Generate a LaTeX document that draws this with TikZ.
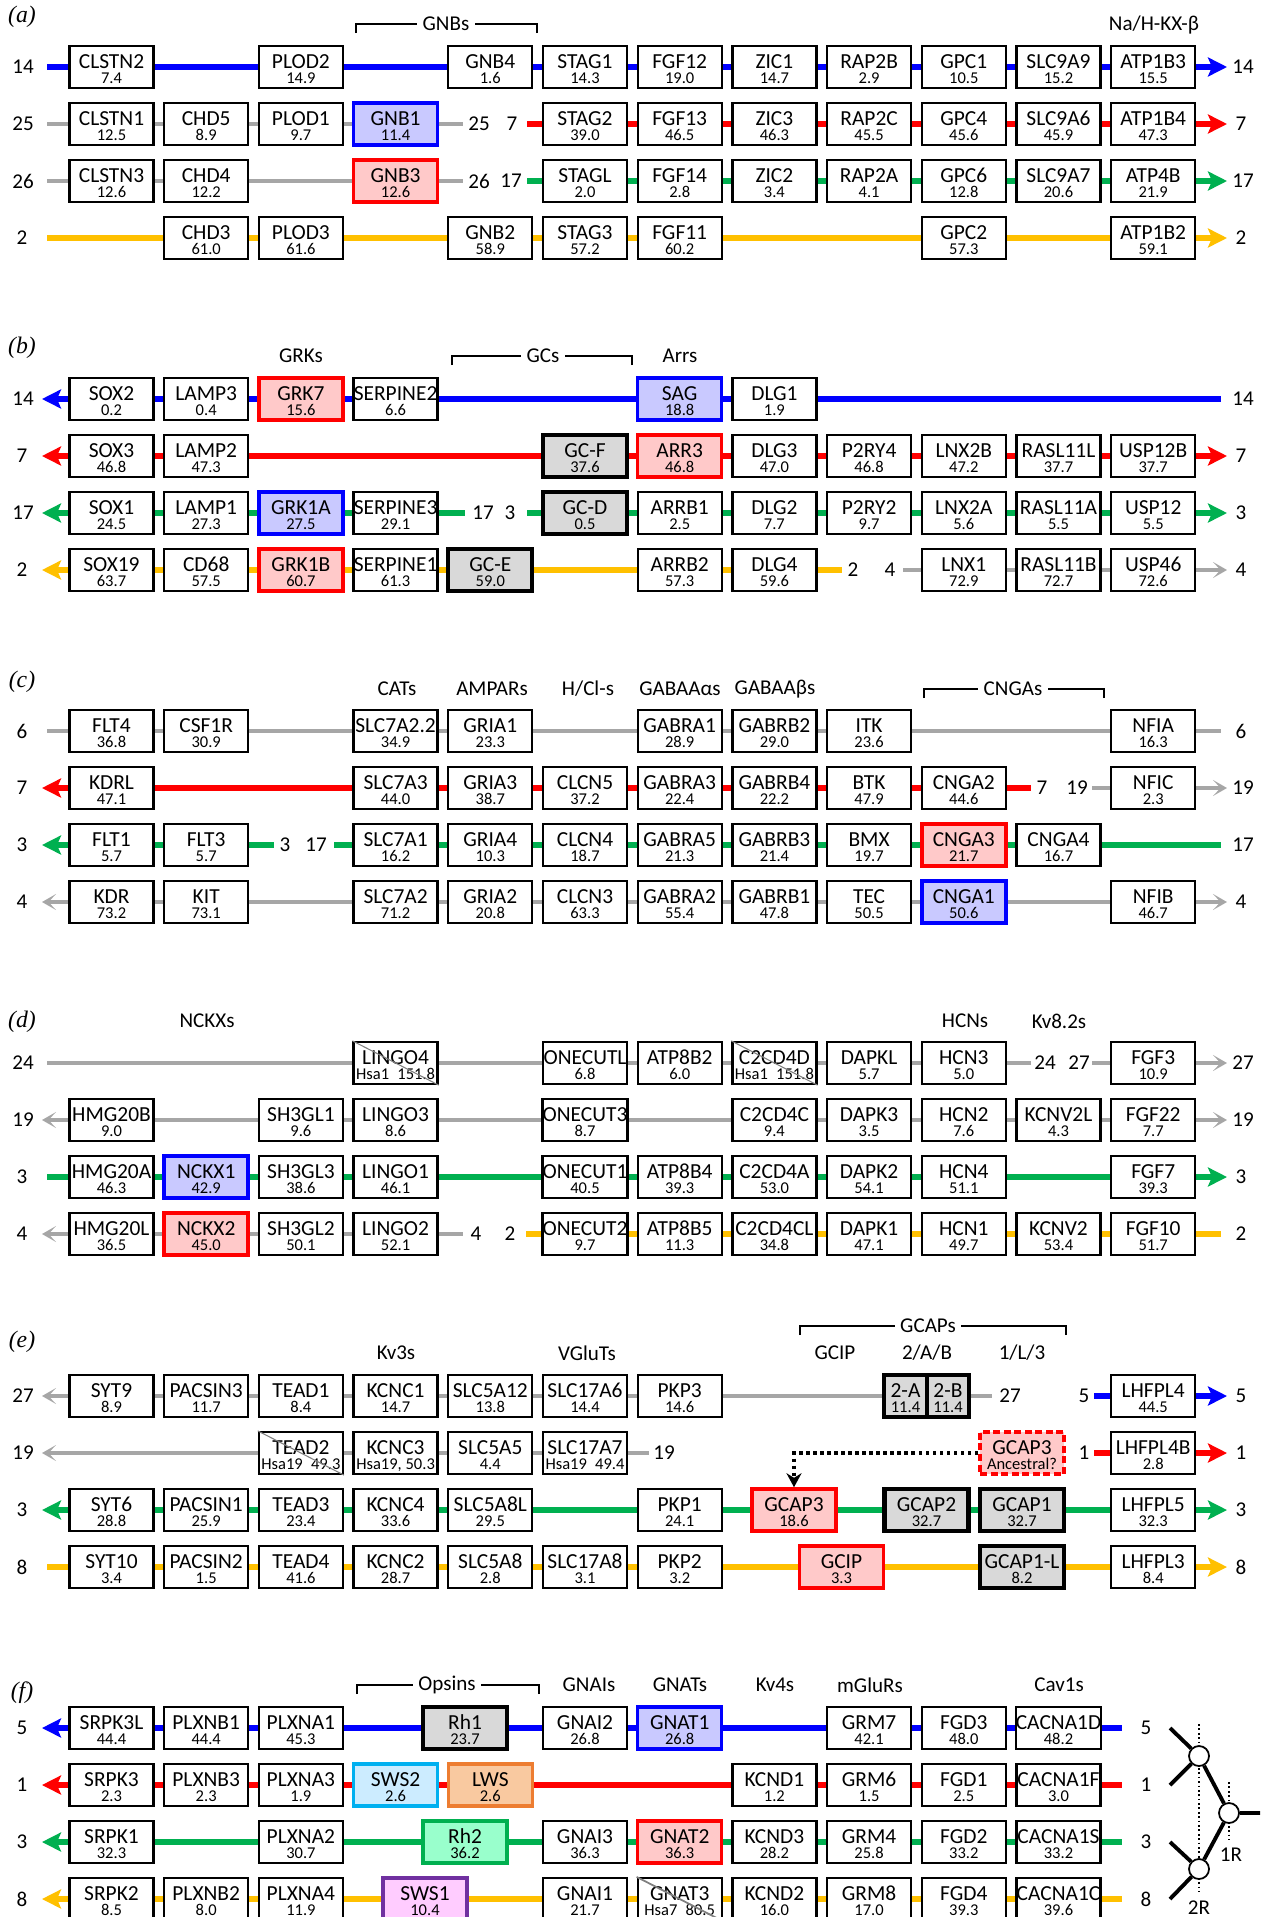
\documentclass[tikz,border=0pt]{standalone}
\usepackage{fontspec}
\setmainfont{Carlito}
\newfontfamily\panelfont{Liberation Serif}
\usetikzlibrary{arrows.meta}
\usepackage{xcolor}
\definecolor{chrblue}{HTML}{0000FF}
\definecolor{chrred}{HTML}{FF0000}
\definecolor{chrgreen}{HTML}{00B050}
\definecolor{chryellow}{HTML}{FFC000}
\definecolor{chrgray}{HTML}{A6A6A6}
\definecolor{bluefill}{HTML}{C9C9FF}
\definecolor{redfill}{HTML}{FFC9C9}
\definecolor{grayfill}{HTML}{D9D9D9}
\definecolor{cyanline}{HTML}{00B0F0}
\definecolor{cyanfill}{HTML}{CCECFF}
\definecolor{orangeline}{HTML}{ED7D31}
\definecolor{orangefill}{HTML}{F9C9A0}
\definecolor{greenfill}{HTML}{99FFCC}
\definecolor{purpleline}{HTML}{7030A0}
\definecolor{purplefill}{HTML}{FFCCFF}

\newcommand{\namefont}{\fontsize{12.2}{8.5}\selectfont}
\newcommand{\numfont}{\fontsize{9.4}{8.5}\selectfont}
\newcommand{\gtop}{\rule{0pt}{12pt}}
\newcommand{\gbot}{\rule[-1.5pt]{0pt}{1.5pt}}

\tikzset{
  gene/.style={draw=black, line width=1.3pt, fill=white, minimum width=1.68cm,
    minimum height=0.84cm, inner sep=0pt, align=center, font=\namefont},
  gblue/.style={gene, draw=chrblue, fill=bluefill, line width=2pt},
  gred/.style={gene, draw=chrred, fill=redfill, line width=2pt},
  ggray/.style={gene, fill=grayfill, line width=2.4pt},
  gcyan/.style={gene, draw=cyanline, fill=cyanfill, line width=2pt},
  gorange/.style={gene, draw=orangeline, fill=orangefill, line width=2pt},
  ggreen/.style={gene, draw=chrgreen, fill=greenfill, line width=2pt},
  gpurple/.style={gene, draw=purpleline, fill=purplefill, line width=2pt},
  ganc/.style={gred, dash pattern=on 4pt off 2pt},
  ghalf/.style={ggray, minimum width=0.85cm},
  blueline/.style={draw=chrblue, line width=3.7pt},
  redline/.style={draw=chrred, line width=3.7pt},
  greenline/.style={draw=chrgreen, line width=3.7pt},
  yellowline/.style={draw=chryellow, line width=3.7pt},
  grayline/.style={draw=chrgray, line width=2.3pt},
  chrtip/.tip={Stealth[length=3.8mm,width=3.8mm,inset=0.8mm]},
  graytip/.tip={Stealth[length=2.8mm,width=3.2mm,inset=1.5mm]},
  chrlab/.style={font=\fontsize{12}{14}\selectfont, inner sep=0pt},
  grp/.style={font=\fontsize{12}{14}\selectfont, inner sep=3pt},
  bracket/.style={line width=0.85pt},
  panel/.style={font=\panelfont\itshape\fontsize{13.5}{16}\selectfont},
  diag/.style={draw=gray, line width=0.6pt},
  dotarrow/.style={line width=2.2pt, dash pattern=on 2pt off 2pt,
    -{Stealth[length=2.8mm,width=3mm]}},
  tree/.style={line width=2.2pt},
  tdot/.style={line width=0.7pt, dash pattern=on 1pt off 1.5pt},
  tnode/.style={circle, draw, line width=1pt, fill=white, minimum size=0.4cm, inner sep=0pt},
}

\begin{document}
\begin{tikzpicture}[x=0.02cm, y=-0.02cm]
\useasboundingbox (0,0) rectangle (1264,1917);

% ---------------- (a) ----------------
\node[panel] (pa) at (22,17) {(a)};
\node[grp] (gnbs) at (446,24) {GNBs};
\coordinate (gnbs-l) at (356,33); \coordinate (gnbs-r) at (537,33);
\draw[bracket] (gnbs-l) |- (gnbs.west);
\draw[bracket] (gnbs-r) |- (gnbs.east);
\node[grp] (nahkx) at (1154,25) {Na/H-KX-β};

\coordinate (a1s) at (47,67);   \coordinate (a1e) at (1227,67);
\coordinate (a2s) at (47,124);  \coordinate (a2m) at (463,124);
\coordinate (a2n) at (527,124); \coordinate (a2e) at (1227,124);
\coordinate (a3s) at (47,181);  \coordinate (a3m) at (463,181);
\coordinate (a3n) at (527,181); \coordinate (a3e) at (1227,181);
\coordinate (a4s) at (47,238);  \coordinate (a4e) at (1227,238);
\draw[blueline,-chrtip] (a1s) -- (a1e);
\draw[grayline] (a2s) -- (a2m);
\draw[redline,-chrtip] (a2n) -- (a2e);
\draw[grayline] (a3s) -- (a3m);
\draw[greenline,-chrtip] (a3n) -- (a3e);
\draw[yellowline,-chrtip] (a4s) -- (a4e);

\node[chrlab] (a1l) at (23,67) {14};  \node[chrlab] (a1r) at (1243,67) {14};
\node[chrlab] (a2l) at (23,124) {25}; \node[chrlab] (a2x) at (479,124) {25};
\node[chrlab] (a2y) at (512,124) {7}; \node[chrlab] (a2r) at (1241,124) {7};
\node[chrlab] (a3l) at (23,181) {26}; \node[chrlab] (a3x) at (479,181) {26};
\node[chrlab] (a3y) at (511,181) {17}; \node[chrlab] (a3r) at (1243,181) {17};
\node[chrlab] (a4l) at (22,238) {2};  \node[chrlab] (a4r) at (1241,238) {2};

\foreach \col/\gname/\val/\sty in {1/CLSTN2/7.4/gene, 3/PLOD2/14.9/gene, 5/GNB4/1.6/gene,
    6/STAG1/14.3/gene, 7/FGF12/19.0/gene, 8/ZIC1/14.7/gene, 9/RAP2B/2.9/gene,
    10/GPC1/10.5/gene, 11/SLC9A9/15.2/gene, 12/ATP1B3/15.5/gene}
  \node[\sty] (a1-\col) at ({111.5+(\col-1)*94.7},67) {\gtop\gname\\{\numfont\val\gbot}};
\foreach \col/\gname/\val/\sty in {1/CLSTN1/12.5/gene, 2/CHD5/8.9/gene, 3/PLOD1/9.7/gene,
    4/GNB1/11.4/gblue, 6/STAG2/39.0/gene, 7/FGF13/46.5/gene, 8/ZIC3/46.3/gene,
    9/RAP2C/45.5/gene, 10/GPC4/45.6/gene, 11/SLC9A6/45.9/gene, 12/ATP1B4/47.3/gene}
  \node[\sty] (a2-\col) at ({111.5+(\col-1)*94.7},124) {\gtop\gname\\{\numfont\val\gbot}};
\foreach \col/\gname/\val/\sty in {1/CLSTN3/12.6/gene, 2/CHD4/12.2/gene, 4/GNB3/12.6/gred,
    6/STAGL/2.0/gene, 7/FGF14/2.8/gene, 8/ZIC2/3.4/gene, 9/RAP2A/4.1/gene,
    10/GPC6/12.8/gene, 11/SLC9A7/20.6/gene, 12/ATP4B/21.9/gene}
  \node[\sty] (a3-\col) at ({111.5+(\col-1)*94.7},181) {\gtop\gname\\{\numfont\val\gbot}};
\foreach \col/\gname/\val/\sty in {2/CHD3/61.0/gene, 3/PLOD3/61.6/gene, 5/GNB2/58.9/gene,
    6/STAG3/57.2/gene, 7/FGF11/60.2/gene, 10/GPC2/57.3/gene, 12/ATP1B2/59.1/gene}
  \node[\sty] (a4-\col) at ({111.5+(\col-1)*94.7},238) {\gtop\gname\\{\numfont\val\gbot}};

% ---------------- (b) ----------------
\node[panel] (pb) at (22,348) {(b)};
\node[grp] (grks) at (301,356) {GRKs};
\node[grp] (gcs) at (543,356) {GCs};
\coordinate (gcs-l) at (452,365); \coordinate (gcs-r) at (632,365);
\draw[bracket] (gcs-l) |- (gcs.west);
\draw[bracket] (gcs-r) |- (gcs.east);
\node[grp] (arrs) at (680,356) {Arrs};

\coordinate (b1s) at (42,399);  \coordinate (b1e) at (1221,399);
\coordinate (b2s) at (42,456);  \coordinate (b2e) at (1227,456);
\coordinate (b3s) at (42,513);  \coordinate (b3m) at (465,513);
\coordinate (b3n) at (527,513); \coordinate (b3e) at (1227,513);
\coordinate (b4s) at (42,570);  \coordinate (b4m) at (842,570);
\coordinate (b4n) at (903,570); \coordinate (b4e) at (1227,570);
\draw[blueline,chrtip-] (b1s) -- (b1e);
\draw[redline,chrtip-chrtip] (b2s) -- (b2e);
\draw[greenline,chrtip-] (b3s) -- (b3m);
\draw[greenline,-chrtip] (b3n) -- (b3e);
\draw[yellowline,chrtip-] (b4s) -- (b4m);
\draw[grayline,-graytip] (b4n) -- (b4e);

\node[chrlab] (b1l) at (23,399) {14}; \node[chrlab] (b1r) at (1243,399) {14};
\node[chrlab] (b2l) at (22,456) {7};  \node[chrlab] (b2r) at (1241,456) {7};
\node[chrlab] (b3l) at (23,513) {17}; \node[chrlab] (b3x) at (483,513) {17};
\node[chrlab] (b3y) at (510,513) {3}; \node[chrlab] (b3r) at (1241,513) {3};
\node[chrlab] (b4l) at (22,570) {2};  \node[chrlab] (b4x) at (853,570) {2};
\node[chrlab] (b4y) at (890,570) {4}; \node[chrlab] (b4r) at (1241,570) {4};

\foreach \col/\gname/\val/\sty in {1/SOX2/0.2/gene, 2/LAMP3/0.4/gene, 3/GRK7/15.6/gred,
    4/SERPINE2/6.6/gene, 7/SAG/18.8/gblue, 8/DLG1/1.9/gene}
  \node[\sty] (b1-\col) at ({111.5+(\col-1)*94.7},399) {\gtop\gname\\{\numfont\val\gbot}};
\foreach \col/\gname/\val/\sty in {1/SOX3/46.8/gene, 2/LAMP2/47.3/gene, 6/GC-F/37.6/ggray,
    7/ARR3/46.8/gred, 8/DLG3/47.0/gene, 9/P2RY4/46.8/gene, 10/LNX2B/47.2/gene,
    11/RASL11L/37.7/gene, 12/USP12B/37.7/gene}
  \node[\sty] (b2-\col) at ({111.5+(\col-1)*94.7},456) {\gtop\gname\\{\numfont\val\gbot}};
\foreach \col/\gname/\val/\sty in {1/SOX1/24.5/gene, 2/LAMP1/27.3/gene, 3/GRK1A/27.5/gblue,
    4/SERPINE3/29.1/gene, 6/GC-D/0.5/ggray, 7/ARRB1/2.5/gene, 8/DLG2/7.7/gene,
    9/P2RY2/9.7/gene, 10/LNX2A/5.6/gene, 11/RASL11A/5.5/gene, 12/USP12/5.5/gene}
  \node[\sty] (b3-\col) at ({111.5+(\col-1)*94.7},513) {\gtop\gname\\{\numfont\val\gbot}};
\foreach \col/\gname/\val/\sty in {1/SOX19/63.7/gene, 2/CD68/57.5/gene, 3/GRK1B/60.7/gred,
    4/SERPINE1/61.3/gene, 5/GC-E/59.0/ggray, 7/ARRB2/57.3/gene, 8/DLG4/59.6/gene,
    10/LNX1/72.9/gene, 11/RASL11B/72.7/gene, 12/USP46/72.6/gene}
  \node[\sty] (b4-\col) at ({111.5+(\col-1)*94.7},570) {\gtop\gname\\{\numfont\val\gbot}};

% ---------------- (c) ----------------
\node[panel] (pc) at (22,682) {(c)};
\node[grp] (cats) at (397,689) {CATs};
\node[grp] (ampars) at (492,689) {AMPARs};
\node[grp] (hcls) at (588,689) {H/Cl-s};
\node[grp] (gabaa) at (680,689) {GABAAαs};
\node[grp] (gabab) at (775,689) {GABAAβs};
\node[grp] (cngas) at (1013,689) {CNGAs};
\coordinate (cngas-l) at (924,698); \coordinate (cngas-r) at (1104,698);
\draw[bracket] (cngas-l) |- (cngas.west);
\draw[bracket] (cngas-r) |- (cngas.east);

\coordinate (c1s) at (47,731);  \coordinate (c1e) at (1221,731);
\coordinate (c2s) at (42,788);  \coordinate (c2m) at (1031,788);
\coordinate (c2n) at (1092,788); \coordinate (c2e) at (1227,788);
\coordinate (c3s) at (42,845);  \coordinate (c3m) at (274,845);
\coordinate (c3n) at (334,845); \coordinate (c3e) at (1221,845);
\coordinate (c4s) at (42,902);  \coordinate (c4e) at (1227,902);
\draw[grayline] (c1s) -- (c1e);
\draw[redline,chrtip-] (c2s) -- (c2m);
\draw[grayline,-graytip] (c2n) -- (c2e);
\draw[greenline,chrtip-] (c3s) -- (c3m);
\draw[greenline] (c3n) -- (c3e);
\draw[grayline,graytip-graytip] (c4s) -- (c4e);

\node[chrlab] (c1l) at (22,731) {6};  \node[chrlab] (c1r) at (1241,731) {6};
\node[chrlab] (c2l) at (22,788) {7};  \node[chrlab] (c2x) at (1042,788) {7};
\node[chrlab] (c2y) at (1077,788) {19}; \node[chrlab] (c2r) at (1243,788) {19};
\node[chrlab] (c3l) at (22,845) {3};  \node[chrlab] (c3x) at (285,845) {3};
\node[chrlab] (c3y) at (316,845) {17}; \node[chrlab] (c3r) at (1243,845) {17};
\node[chrlab] (c4l) at (22,902) {4};  \node[chrlab] (c4r) at (1241,902) {4};

\foreach \col/\gname/\val/\sty in {1/FLT4/36.8/gene, 2/CSF1R/30.9/gene, 4/SLC7A2.2/34.9/gene,
    5/GRIA1/23.3/gene, 7/GABRA1/28.9/gene, 8/GABRB2/29.0/gene, 9/ITK/23.6/gene,
    12/NFIA/16.3/gene}
  \node[\sty] (c1-\col) at ({111.5+(\col-1)*94.7},731) {\gtop\gname\\{\numfont\val\gbot}};
\foreach \col/\gname/\val/\sty in {1/KDRL/47.1/gene, 4/SLC7A3/44.0/gene, 5/GRIA3/38.7/gene,
    6/CLCN5/37.2/gene, 7/GABRA3/22.4/gene, 8/GABRB4/22.2/gene, 9/BTK/47.9/gene,
    10/CNGA2/44.6/gene, 12/NFIC/2.3/gene}
  \node[\sty] (c2-\col) at ({111.5+(\col-1)*94.7},788) {\gtop\gname\\{\numfont\val\gbot}};
\foreach \col/\gname/\val/\sty in {1/FLT1/5.7/gene, 2/FLT3/5.7/gene, 4/SLC7A1/16.2/gene,
    5/GRIA4/10.3/gene, 6/CLCN4/18.7/gene, 7/GABRA5/21.3/gene, 8/GABRB3/21.4/gene,
    9/BMX/19.7/gene, 10/CNGA3/21.7/gred, 11/CNGA4/16.7/gene}
  \node[\sty] (c3-\col) at ({111.5+(\col-1)*94.7},845) {\gtop\gname\\{\numfont\val\gbot}};
\foreach \col/\gname/\val/\sty in {1/KDR/73.2/gene, 2/KIT/73.1/gene, 4/SLC7A2/71.2/gene,
    5/GRIA2/20.8/gene, 6/CLCN3/63.3/gene, 7/GABRA2/55.4/gene, 8/GABRB1/47.8/gene,
    9/TEC/50.5/gene, 10/CNGA1/50.6/gblue, 12/NFIB/46.7/gene}
  \node[\sty] (c4-\col) at ({111.5+(\col-1)*94.7},902) {\gtop\gname\\{\numfont\val\gbot}};

% ---------------- (d) ----------------
\node[panel] (pd) at (22,1022) {(d)};
\node[grp] (nckxs) at (207,1021) {NCKXs};
\node[grp] (hcns) at (965,1021) {HCNs};
\node[grp] (kv82s) at (1059,1021) {Kv8.2s};

\coordinate (d1s) at (47,1063);  \coordinate (d1m) at (1031,1063);
\coordinate (d1n) at (1092,1063); \coordinate (d1e) at (1227,1063);
\coordinate (d2s) at (42,1120);  \coordinate (d2e) at (1227,1120);
\coordinate (d3s) at (47,1177);  \coordinate (d3e) at (1227,1177);
\coordinate (d4s) at (42,1234);  \coordinate (d4m) at (463,1234);
\coordinate (d4n) at (526,1234); \coordinate (d4e) at (1221,1234);
\draw[grayline] (d1s) -- (d1m);
\draw[grayline,-graytip] (d1n) -- (d1e);
\draw[grayline,graytip-graytip] (d2s) -- (d2e);
\draw[greenline,-chrtip] (d3s) -- (d3e);
\draw[grayline,graytip-] (d4s) -- (d4m);
\draw[yellowline] (d4n) -- (d4e);

\node[chrlab] (d1l) at (23,1063) {24}; \node[chrlab] (d1x) at (1045,1063) {24};
\node[chrlab] (d1y) at (1079,1063) {27}; \node[chrlab] (d1r) at (1243,1063) {27};
\node[chrlab] (d2l) at (23,1120) {19}; \node[chrlab] (d2r) at (1243,1120) {19};
\node[chrlab] (d3l) at (22,1177) {3};  \node[chrlab] (d3r) at (1241,1177) {3};
\node[chrlab] (d4l) at (22,1234) {4};  \node[chrlab] (d4x) at (476,1234) {4};
\node[chrlab] (d4y) at (510,1234) {2}; \node[chrlab] (d4r) at (1241,1234) {2};

\foreach \col/\gname/\val/\sty in {4/LINGO4/{Hsa1\enspace151.8}/gene, 6/ONECUTL/6.8/gene,
    7/ATP8B2/6.0/gene, 8/C2CD4D/{Hsa1\enspace151.8}/gene, 9/DAPKL/5.7/gene,
    10/HCN3/5.0/gene, 12/FGF3/10.9/gene}
  \node[\sty] (d1-\col) at ({111.5+(\col-1)*94.7},1063) {\gtop\gname\\{\numfont\val\gbot}};
\foreach \col/\gname/\val/\sty in {1/HMG20B/9.0/gene, 3/SH3GL1/9.6/gene, 4/LINGO3/8.6/gene,
    6/ONECUT3/8.7/gene, 8/C2CD4C/9.4/gene, 9/DAPK3/3.5/gene, 10/HCN2/7.6/gene,
    11/KCNV2L/4.3/gene, 12/FGF22/7.7/gene}
  \node[\sty] (d2-\col) at ({111.5+(\col-1)*94.7},1120) {\gtop\gname\\{\numfont\val\gbot}};
\foreach \col/\gname/\val/\sty in {1/HMG20A/46.3/gene, 2/NCKX1/42.9/gblue, 3/SH3GL3/38.6/gene,
    4/LINGO1/46.1/gene, 6/ONECUT1/40.5/gene, 7/ATP8B4/39.3/gene, 8/C2CD4A/53.0/gene,
    9/DAPK2/54.1/gene, 10/HCN4/51.1/gene, 12/FGF7/39.3/gene}
  \node[\sty] (d3-\col) at ({111.5+(\col-1)*94.7},1177) {\gtop\gname\\{\numfont\val\gbot}};
\foreach \col/\gname/\val/\sty in {1/HMG20L/36.5/gene, 2/NCKX2/45.0/gred, 3/SH3GL2/50.1/gene,
    4/LINGO2/52.1/gene, 6/ONECUT2/9.7/gene, 7/ATP8B5/11.3/gene, 8/C2CD4CL/34.8/gene,
    9/DAPK1/47.1/gene, 10/HCN1/49.7/gene, 11/KCNV2/53.4/gene, 12/FGF10/51.7/gene}
  \node[\sty] (d4-\col) at ({111.5+(\col-1)*94.7},1234) {\gtop\gname\\{\numfont\val\gbot}};
\draw[diag] (d1-4.north west) -- (d1-4.south east);
\draw[diag] (d1-8.north west) -- (d1-8.south east);

% ---------------- (e) ----------------
\node[panel] (pe) at (22,1342) {(e)};
\node[grp] (kv3s) at (396,1353) {Kv3s};
\node[grp] (vgluts) at (587,1353) {VGluTs};
\node[grp] (gcaps) at (928,1326) {GCAPs};
\coordinate (gcaps-l) at (800,1335); \coordinate (gcaps-r) at (1066,1335);
\draw[bracket] (gcaps-l) |- (gcaps.west);
\draw[bracket] (gcaps-r) |- (gcaps.east);
\node[grp] (sgcip) at (835,1353) {GCIP};
\node[grp] (s2ab) at (927,1353) {2/A/B};
\node[grp] (s1l3) at (1022,1353) {1/L/3};

\coordinate (e1s) at (42,1396);  \coordinate (e1m) at (992,1396);
\coordinate (e1n) at (1094,1396); \coordinate (e1e) at (1227,1396);
\coordinate (e2s) at (42,1453);  \coordinate (e2m) at (649,1453);
\coordinate (e2n) at (1094,1453); \coordinate (e2e) at (1227,1453);
\coordinate (e3s) at (42,1510);  \coordinate (e3e) at (1227,1510);
\coordinate (e4s) at (47,1567);  \coordinate (e4e) at (1227,1567);
\draw[grayline,graytip-] (e1s) -- (e1m);
\draw[blueline,-chrtip] (e1n) -- (e1e);
\draw[grayline,graytip-] (e2s) -- (e2m);
\draw[redline,-chrtip] (e2n) -- (e2e);
\draw[greenline,chrtip-chrtip] (e3s) -- (e3e);
\draw[yellowline,-chrtip] (e4s) -- (e4e);

\node[chrlab] (e1l) at (23,1396) {27}; \node[chrlab] (e1x) at (1010,1396) {27};
\node[chrlab] (e1y) at (1084,1396) {5}; \node[chrlab] (e1r) at (1241,1396) {5};
\node[chrlab] (e2l) at (23,1453) {19}; \node[chrlab] (e2x) at (664,1453) {19};
\node[chrlab] (e2y) at (1084,1453) {1}; \node[chrlab] (e2r) at (1241,1453) {1};
\node[chrlab] (e3l) at (22,1510) {3};  \node[chrlab] (e3r) at (1241,1510) {3};
\node[chrlab] (e4l) at (22,1567) {8};  \node[chrlab] (e4r) at (1241,1567) {8};

\foreach \col/\gname/\val/\sty in {1/SYT9/8.9/gene, 2/PACSIN3/11.7/gene, 3/TEAD1/8.4/gene,
    4/KCNC1/14.7/gene, 5/SLC5A12/13.8/gene, 6/SLC17A6/14.4/gene, 7/PKP3/14.6/gene,
    12/LHFPL4/44.5/gene}
  \node[\sty] (e1-\col) at ({111.5+(\col-1)*94.7},1396) {\gtop\gname\\{\numfont\val\gbot}};
\foreach \col/\gname/\val/\sty in {3/TEAD2/{Hsa19\enspace49.3}/gene, 4/KCNC3/{Hsa19, 50.3}/gene,
    5/SLC5A5/4.4/gene, 6/SLC17A7/{Hsa19\enspace49.4}/gene, 12/LHFPL4B/2.8/gene}
  \node[\sty] (e2-\col) at ({111.5+(\col-1)*94.7},1453) {\gtop\gname\\{\numfont\val\gbot}};
\foreach \col/\gname/\val/\sty in {1/SYT6/28.8/gene, 2/PACSIN1/25.9/gene, 3/TEAD3/23.4/gene,
    4/KCNC4/33.6/gene, 5/SLC5A8L/29.5/gene, 7/PKP1/24.1/gene, 12/LHFPL5/32.3/gene}
  \node[\sty] (e3-\col) at ({111.5+(\col-1)*94.7},1510) {\gtop\gname\\{\numfont\val\gbot}};
\foreach \col/\gname/\val/\sty in {1/SYT10/3.4/gene, 2/PACSIN2/1.5/gene, 3/TEAD4/41.6/gene,
    4/KCNC2/28.7/gene, 5/SLC5A8/2.8/gene, 6/SLC17A8/3.1/gene, 7/PKP2/3.2/gene,
    12/LHFPL3/8.4/gene}
  \node[\sty] (e4-\col) at ({111.5+(\col-1)*94.7},1567) {\gtop\gname\\{\numfont\val\gbot}};
\draw[diag] (e2-3.north west) -- (e2-3.south east);

% GCAP genes
\node[ghalf] (gcap2a) at (905.5,1396) {\gtop 2-A\\{\numfont 11.4\gbot}};
\node[ghalf] (gcap2b) at (948,1396) {\gtop 2-B\\{\numfont 11.4\gbot}};
\node[ganc] (gcapanc) at (1022,1453) {\gtop GCAP3\\{\numfont Ancestral?\gbot}};
\node[gred] (gcap3) at (794,1510) {\gtop GCAP3\\{\numfont 18.6\gbot}};
\node[ggray] (gcap2) at (926.5,1510) {\gtop GCAP2\\{\numfont 32.7\gbot}};
\node[ggray] (gcap1) at (1022,1510) {\gtop GCAP1\\{\numfont 32.7\gbot}};
\node[gred] (gcip) at (841.5,1567) {\gtop GCIP\\{\numfont 3.3\gbot}};
\node[ggray] (gcap1l) at (1022,1567) {\gtop GCAP1-L\\{\numfont 8.2\gbot}};
\draw[dotarrow] (gcapanc.west) -| (gcap3.north);

% ---------------- (f) ----------------
\node[panel] (pf) at (22,1693) {(f)};
\node[grp] (opsins) at (447,1685) {Opsins};
\coordinate (opsins-l) at (357,1694); \coordinate (opsins-r) at (539,1694);
\draw[bracket] (opsins-l) |- (opsins.west);
\draw[bracket] (opsins-r) |- (opsins.east);
\node[grp] (gnais) at (589,1685) {GNAIs};
\node[grp] (gnats) at (680,1685) {GNATs};
\node[grp] (kv4s) at (775,1685) {Kv4s};
\node[grp] (mglurs) at (870,1685) {mGluRs};
\node[grp] (cav1s) at (1059,1685) {Cav1s};

\coordinate (f1s) at (42,1728);  \coordinate (f1e) at (1122,1728);
\coordinate (f2s) at (42,1785);  \coordinate (f2e) at (1122,1785);
\coordinate (f3s) at (42,1842);  \coordinate (f3e) at (1122,1842);
\coordinate (f4s) at (42,1899);  \coordinate (f4e) at (1122,1899);
\draw[blueline,chrtip-] (f1s) -- (f1e);
\draw[redline,chrtip-] (f2s) -- (f2e);
\draw[greenline,chrtip-] (f3s) -- (f3e);
\draw[yellowline,chrtip-] (f4s) -- (f4e);

\node[chrlab] (f1l) at (22,1728) {5}; \node[chrlab] (f1r) at (1146,1728) {5};
\node[chrlab] (f2l) at (22,1785) {1}; \node[chrlab] (f2r) at (1146,1785) {1};
\node[chrlab] (f3l) at (22,1842) {3}; \node[chrlab] (f3r) at (1146,1842) {3};
\node[chrlab] (f4l) at (22,1899) {8}; \node[chrlab] (f4r) at (1146,1899) {8};

\foreach \col/\gname/\val/\sty in {1/SRPK3L/44.4/gene, 2/PLXNB1/44.4/gene, 3/PLXNA1/45.3/gene,
    6/GNAI2/26.8/gene, 7/GNAT1/26.8/gblue, 9/GRM7/42.1/gene, 10/FGD3/48.0/gene,
    11/CACNA1D/48.2/gene}
  \node[\sty] (f1-\col) at ({111.5+(\col-1)*94.7},1728) {\gtop\gname\\{\numfont\val\gbot}};
\foreach \col/\gname/\val/\sty in {1/SRPK3/2.3/gene, 2/PLXNB3/2.3/gene, 3/PLXNA3/1.9/gene,
    4/SWS2/2.6/gcyan, 5/LWS/2.6/gorange, 8/KCND1/1.2/gene, 9/GRM6/1.5/gene,
    10/FGD1/2.5/gene, 11/CACNA1F/3.0/gene}
  \node[\sty] (f2-\col) at ({111.5+(\col-1)*94.7},1785) {\gtop\gname\\{\numfont\val\gbot}};
\foreach \col/\gname/\val/\sty in {1/SRPK1/32.3/gene, 3/PLXNA2/30.7/gene, 6/GNAI3/36.3/gene,
    7/GNAT2/36.3/gred, 8/KCND3/28.2/gene, 9/GRM4/25.8/gene, 10/FGD2/33.2/gene,
    11/CACNA1S/33.2/gene}
  \node[\sty] (f3-\col) at ({111.5+(\col-1)*94.7},1842) {\gtop\gname\\{\numfont\val\gbot}};
\foreach \col/\gname/\val/\sty in {1/SRPK2/8.5/gene, 2/PLXNB2/8.0/gene, 3/PLXNA4/11.9/gene,
    6/GNAI1/21.7/gene, 7/GNAT3/{Hsa7\enspace80.5}/gene, 8/KCND2/16.0/gene,
    9/GRM8/17.0/gene, 10/FGD4/39.3/gene, 11/CACNA1C/39.6/gene}
  \node[\sty] (f4-\col) at ({111.5+(\col-1)*94.7},1899) {\gtop\gname\\{\numfont\val\gbot}};
\node[ggray] (rh1) at (465,1728) {\gtop Rh1\\{\numfont 23.7\gbot}};
\node[ggreen] (rh2) at (465,1842) {\gtop Rh2\\{\numfont 36.2\gbot}};
\node[gpurple] (sws1) at (425,1899) {\gtop SWS1\\{\numfont 10.4\gbot}};
\draw[diag, line width=1pt] (f4-7.north west) -- (f4-7.south east);

% tree of the round of duplications
\coordinate (da1) at (1199,1724); \coordinate (da2) at (1199,1892);
\coordinate (db1) at (1229,1782); \coordinate (db2) at (1229,1840);
\draw[tdot] (da1) -- (da2);
\draw[tdot] (db1) -- (db2);
\coordinate (tl1) at (1170,1728); \coordinate (tl2) at (1170,1785);
\coordinate (tl3) at (1170,1842); \coordinate (tl4) at (1170,1899);
\coordinate (troot) at (1260,1813);
\node[tnode] (ta) at (1199,1756) {};
\node[tnode] (tb) at (1229,1813) {};
\node[tnode] (tc) at (1199,1869) {};
\draw[tree] (tl1) -- (ta) (tl2) -- (ta) (ta) -- (tb) (tb) -- (troot)
  (tb) -- (tc) (tl3) -- (tc) (tl4) -- (tc);
\node[chrlab] (r1) at (1231,1855) {1R};
\node[chrlab] (r2) at (1199,1908) {2R};
\end{tikzpicture}
\end{document}
